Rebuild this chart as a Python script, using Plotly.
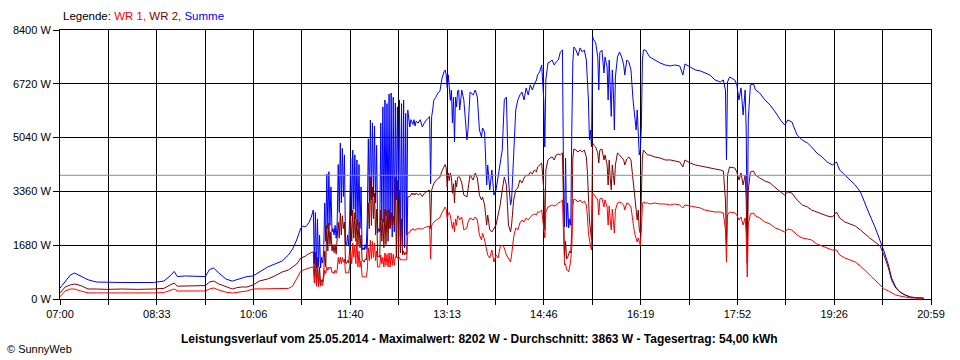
import plotly.graph_objects as go

# ---------------- data (minutes after 07:00, watts) ----------------
T = [0, 5, 10, 14, 20, 27, 35, 45, 60, 75, 90, 100, 106, 110, 113, 120, 130, 140, 144, 148, 153, 160, 166, 170, 175, 180, 186, 192, 200, 207, 214, 220, 224, 228,
     232, 234, 236, 238, 240, 242, 244, 245, 246, 247, 248, 249, 250, 251, 252, 253, 254, 255, 256, 257, 258, 259, 260, 261, 262, 263, 264, 265, 266, 267, 268, 269,
     270, 271, 272, 273, 274, 275, 276, 277, 278, 279, 280, 281, 282, 283, 284, 285, 286, 287, 288, 289, 290, 291, 292, 293, 294, 295, 296, 297, 298, 299, 300, 301,
     302, 303, 304, 305, 306, 307, 308, 309, 310, 311, 312, 313, 314, 315, 316, 317, 318, 319, 320, 321, 322, 323, 324, 325, 326, 327, 328, 329, 330, 331, 332, 333,
     334, 335, 336, 337, 338, 339, 340, 341, 342, 343, 345, 347, 349, 351, 353, 355, 356, 357, 358, 359, 360, 362, 364, 366, 368, 370, 371, 372, 373, 374, 375, 376,
     377, 378, 379, 380, 381, 382, 383, 384,
     385, 387, 389, 392, 393, 395, 398, 400, 402, 404, 406, 407, 409, 411, 412, 414, 416, 418, 420, 422, 424, 426, 428, 430, 432, 434, 435, 437, 439, 441, 443, 445,
     447, 449, 451, 453, 455, 457, 459, 460, 462, 464, 466, 467, 468, 470, 472, 474, 476, 478, 480,
     482, 484, 485, 486, 487, 488, 489, 490, 491, 492, 493, 494, 495, 497, 499, 501, 503, 505, 507, 508, 509, 510, 511, 512, 513, 514, 516, 518, 519, 520, 522, 524,
     525, 527, 528, 529, 530, 531, 532, 533, 534, 535, 537, 539, 541, 543, 544, 546, 548, 550, 552, 553, 554, 555, 556, 557, 558, 559, 560, 561, 562, 564, 566, 568,
     573, 578, 583, 588, 592, 597, 600, 602, 607, 612, 617, 621, 626, 631, 636, 639, 641, 642, 643, 645, 650, 652, 654, 656, 658, 660, 661, 662, 663, 665, 668, 670,
     674, 679, 684, 689, 694, 698, 701, 705, 710, 715, 720, 724, 729, 734, 739, 744, 748, 751, 756, 761, 766, 771, 775, 780, 785, 790, 794, 798, 801, 805, 809, 814,
     819, 824, 828, 832]

SUMME = [340, 560, 750, 812, 720, 600, 530, 515, 515, 515, 515, 560, 720, 860, 700, 720, 700, 700, 920, 968, 812, 620, 560, 600, 650, 700, 720, 843, 1000, 1093, 1187, 1374, 1560, 1843,
         2217, 2280, 2250, 2300, 2400, 2550, 2780, 1100, 2700, 968, 2500, 1000, 2000, 968, 1300, 1124, 1500, 3000, 1800, 3900, 2200, 3976, 2300, 3500, 2100, 2200, 2000, 2300, 1900, 2400, 4200, 2700,
         4872, 3000, 4700, 3200, 4500, 1700, 1655, 2000, 1650, 2500, 4400, 2600, 4650, 2800, 4500, 2500, 4341, 2300, 4200, 2200, 3500, 1530, 1600, 1530, 1700, 1560, 2500, 5000, 3000, 5590, 3100, 5500,
         3200, 5400, 3000, 4800, 2061, 2200, 2100, 5496, 2467, 6000, 2400, 6215, 2600, 6100, 2300, 6400, 2200, 6433, 1936, 6300, 2100, 6121, 3092, 6000, 3200, 6215, 1530, 6100, 1700, 6215, 1600, 5800,
         2000, 5902, 5500, 5372, 5600, 5496, 5450, 5600, 5400, 5550, 5496, 5600, 5372, 5500, 5600, 5650, 5700, 3600, 5700, 5900, 6200, 6300, 6433, 6500, 6900, 7100, 7152, 7000, 6600, 7000, 6527, 6200,
         6527, 5500, 6300, 4900, 6300, 6000, 6500, 6527,
         5902, 6527, 6215, 4966, 5278, 6465, 6371, 6527, 6308, 5278, 5059, 5340, 5215, 3560, 4185, 3404, 4029, 3248, 3404, 3872, 4185, 4653, 6215, 6308, 3716, 2936, 3092, 4341, 5902, 6215, 6371, 6465,
         6215, 6590, 6371, 6683, 6527, 6715, 6839, 6996, 7089, 7308, 6215, 4747, 6839, 7370, 7401, 7464, 7308, 7401, 7464,
         7714, 7776, 3716, 2249, 4400, 2249, 3000, 2217, 2500, 2300, 5300, 7400, 7870, 7776, 7600, 7840, 7714, 7776, 7464, 6839, 6215, 4966, 5278, 4747, 8202, 8100, 8000, 7558, 6527, 7700, 7776, 7058,
         7558, 7245, 6215, 7464, 6746, 5700, 7152, 6527, 5278, 6933, 7558, 7714, 7558, 7308, 6996, 7464, 7401, 7152, 6215, 5902, 5590, 5278, 5902, 4966, 4497, 4653, 5372, 7464, 7776, 7776, 7683, 7558,
         7464, 7370, 7308, 7277, 7308, 7277, 6996, 7339, 7245, 7152, 7120, 7058, 6996, 6839, 6777, 6839, 6527, 4341, 6777, 6933, 6839, 6683, 6215, 6590, 5746, 6527, 5278, 1843, 5590, 6683, 6715, 6527,
         6433, 6215, 6059, 5840, 5590, 5434, 5590, 5528, 5122, 4966, 4872, 4747, 4560, 4435, 4278, 4185, 4278, 4029, 3872, 3716, 3560, 3342, 2998, 2623, 2249, 1843, 1468, 1062, 656, 375, 219, 125,
         62, 47, 31, 31]

WR2 = [190, 375, 440, 468, 420, 312, 312, 300, 312, 300, 312, 330, 437, 500, 400, 406, 406, 420, 530, 562, 470, 375, 312, 350, 375, 375, 437, 562, 625, 720, 843, 906, 1000, 1093,
       1280, 1300, 1330, 1380, 1420, 1450, 1470, 700, 1468, 500, 1300, 400, 1000, 450, 600, 520, 800, 1500, 1000, 2300, 1500, 2373, 1700, 2100, 1500, 1700, 1450, 1700, 1400, 1800, 2400, 1900,
       2686, 2000, 2600, 2200, 2400, 1124, 1100, 1200, 1124, 1500, 2600, 1800, 2779, 1900, 2700, 1800, 2500, 1700, 2400, 1600, 2000, 1218, 1200, 1150, 1250, 1218, 1600, 3000, 2200, 3810, 2300, 3500,
       2500, 3300, 2000, 2800, 1312, 1350, 1300, 2779, 1800, 2500, 1600, 2800, 1700, 2779, 1800, 2800, 2200, 2700, 2300, 2600, 2300, 3810, 1300, 3700, 1218, 3400, 1437, 2500, 1374, 1500, 1374, 1450,
       1400, 3185, 3185, 3200, 3250, 3310, 3250, 3300, 3250, 3310, 3250, 3300, 3200, 3300, 3350, 3400, 3400, 2200, 3400, 3500, 3600, 3700, 3750, 3810, 4000, 4150, 4200, 4100, 3500, 3935, 3700, 3935,
       3800, 3300, 3600, 3000, 3700, 3500, 3800, 3810,
       3810, 3623, 3248, 3185, 3404, 3872, 3716, 3935, 3779, 3248, 3092, 3185, 2936, 2311, 2623, 2155, 2092, 2217, 2311, 2623, 2936, 3404, 3810, 3560, 2311, 2092, 2311, 3092, 3404, 3467, 3716, 3623,
       3779, 3872, 3841, 3966, 3904, 4029, 3966, 4122, 4185, 4247, 3404, 2155, 4029, 4341, 4403, 4435, 4341, 4497, 4528,
       4497, 4560, 2155, 1312, 1800, 1250, 1300, 1374, 1500, 1437, 2155, 4400, 4684, 4653, 4590, 4653, 4590, 4653, 4435, 3966, 2936, 2467, 2155, 1843, 4872, 4810, 4747, 4560, 4247, 4653, 4684, 4341,
       4497, 4185, 3560, 4341, 3779, 3404, 4185, 3716, 3560, 4185, 4560, 4497, 4435, 4341, 4185, 4372, 4435, 4341, 3716, 3404, 3092, 2779, 2467, 2779, 2155, 2061, 3310, 4435, 4653, 4560, 4497, 4497,
       4435, 4403, 4341, 4341, 4310, 4278, 4122, 4341, 4247, 4185, 4154, 4122, 4091, 4060, 4029, 3997, 3092, 1700, 3872, 4122, 4091, 3966, 3716, 3935, 3560, 3872, 3092, 1124, 3404, 3966, 3997, 3872,
       3779, 3685, 3623, 3467, 3342, 3248, 3342, 3310, 3092, 2936, 2873, 2779, 2717, 2655, 2592, 2561, 2717, 2530, 2405, 2342, 2280, 2155, 2030, 1905, 1780, 1655, 1343, 968, 593, 344, 219, 125,
       62, 31, 31, 16]

WR1 = [70, 250, 312, 312, 250, 190, 190, 190, 190, 175, 190, 200, 280, 312, 250, 250, 250, 250, 312, 344, 280, 210, 187, 200, 220, 250, 312, 312, 312, 312, 312, 330, 400, 620,
       870, 900, 930, 950, 968, 990, 1000, 500, 1000, 400, 900, 380, 700, 400, 500, 420, 600, 900, 800, 1000, 900, 1000, 950, 1000, 820, 850, 800, 900, 820, 900, 1300, 1100,
       1312, 1100, 1300, 1150, 1250, 812, 800, 850, 812, 1000, 1500, 1100, 1749, 1300, 1650, 1100, 1900, 1000, 1500, 1000, 1200, 700, 690, 687, 700, 690, 900, 1600, 1200, 1843, 1250, 1800,
       1300, 1750, 1200, 1500, 999, 1000, 1000, 1374, 1100, 1300, 1000, 1437, 1050, 1400, 1000, 1437, 1000, 1437, 1050, 1400, 1050, 1312, 1300, 1312, 1250, 1300, 1218, 1250, 1218, 1218, 1220, 1218,
       1230, 2061, 2061, 2100, 2155, 2155, 2200, 2150, 2150, 2180, 2200, 2200, 2180, 2230, 2250, 2280, 2280, 1250, 2300, 2350, 2400, 2450, 2500, 2550, 2700, 2800, 2870, 2800, 2500, 2650, 2700, 2600,
       2400, 2200, 2400, 2100, 2500, 2300, 2600, 2560,
       2467, 2561, 2155, 2217, 2405, 2530, 2467, 2561, 2467, 1999, 1843, 2061, 1843, 1530, 1374, 1280, 1530, 1156, 1374, 1280, 1624, 1686, 1593, 1374, 1280, 1156, 1374, 1936, 2217, 2155, 2373, 2467,
       2405, 2530, 2467, 2561, 2623, 2655, 2623, 2717, 2717, 2779, 2311, 1905, 2717, 2873, 2904, 2936, 2904, 2936, 2998,
       3029, 3092, 1843, 1062, 1100, 906, 906, 843, 1000, 1218, 1624, 2900, 3123, 3092, 3029, 3092, 2998, 3060, 2936, 2623, 2061, 1749, 1655, 1530, 3310, 3280, 3185, 3092, 2623, 3123, 3154, 2873,
       3092, 2873, 2311, 2904, 2467, 2155, 2811, 2467, 2061, 2779, 2998, 3029, 2998, 2936, 2779, 2998, 2967, 2873, 2311, 2155, 1999, 1905, 1780, 1905, 1749, 1686, 2155, 2967, 3029, 2998, 2998, 2967,
       2998, 2967, 2967, 2936, 2967, 2936, 2842, 2936, 2904, 2873, 2842, 2779, 2748, 2717, 2717, 2686, 2155, 1150, 2623, 2717, 2686, 2623, 2467, 2561, 2311, 2530, 1999, 687, 2311, 2655, 2686, 2592,
       2530, 2405, 2342, 2217, 2155, 2092, 2186, 2155, 1999, 1905, 1874, 1843, 1718, 1655, 1593, 1530, 1530, 1374, 1280, 1218, 1156, 1031, 906, 750, 593, 437, 312, 250, 187, 125, 94, 62,
       31, 31, 16, 16]

X_TICK_LABELS = ["07:00", "", "08:33", "", "10:06", "", "11:40", "", "13:13", "", "14:46", "",
                 "16:19", "", "17:52", "", "19:26", "", "20:59"]
Y_TICKS = [0, 1680, 3360, 5040, 6720, 8400]
AVERAGE = 3863
TITLE = "Leistungsverlauf vom 25.05.2014 - Maximalwert: 8202 W - Durchschnitt: 3863 W - Tagesertrag: 54,00 kWh"

assert len(T) == len(SUMME) == len(WR2) == len(WR1), (len(T), len(SUMME), len(WR2), len(WR1))

X_MAX = 839
FONT = "Liberation Sans, Arial, sans-serif"

fig = go.Figure()
fig.add_trace(go.Scatter(x=T, y=SUMME, mode="lines", name="Summe",
                         line=dict(color="#0000FF", width=1)))
fig.add_trace(go.Scatter(x=T, y=WR2, mode="lines", name="WR 2",
                         line=dict(color="#800000", width=1)))
fig.add_trace(go.Scatter(x=T, y=WR1, mode="lines", name="WR 1",
                         line=dict(color="#FF0000", width=1)))

fig.add_shape(type="line", xref="paper", x0=0, x1=1, yref="y", y0=AVERAGE, y1=AVERAGE,
              line=dict(color="#8C8C8C", width=1), layer="above")

tickvals = [i * X_MAX / 18 for i in range(19)]

fig.update_layout(
    width=960, height=360, autosize=False,
    margin=dict(l=60, r=29, t=30, b=61, pad=0),
    paper_bgcolor="white", plot_bgcolor="white",
    showlegend=False, hovermode=False,
    font=dict(family=FONT, size=11, color="black"),
    xaxis=dict(range=[0, X_MAX], tickmode="array", tickvals=tickvals, ticktext=X_TICK_LABELS,
               showgrid=True, gridcolor="black", gridwidth=1, zeroline=False,
               showline=True, linecolor="black", linewidth=1, mirror=True,
               ticks="outside", ticklen=5, tickcolor="black", tickfont=dict(size=11)),
    yaxis=dict(range=[0, 8400], tickmode="array", tickvals=Y_TICKS,
               ticktext=[f"{v} W" for v in Y_TICKS],
               showgrid=True, gridcolor="black", gridwidth=1, zeroline=False,
               showline=True, linecolor="black", linewidth=1, mirror=True,
               ticks="outside", ticklen=6, tickcolor="black", tickfont=dict(size=11)),
    annotations=[
        dict(text='Legende: <span style="color:#FF0000">WR 1, </span><span style="color:#800000">WR 2, </span><span style="color:#0000FF">Summe</span>',
             xref="paper", yref="paper", x=0.001, y=1.052, xanchor="left", yanchor="middle",
             showarrow=False, font=dict(size=11.5, color="black")),
        dict(text="<b>" + TITLE + "</b>", xref="paper", yref="paper", x=0.482, y=-0.149,
             xanchor="center", yanchor="middle", showarrow=False, font=dict(size=12, color="black")),
        dict(text="© SunnyWeb", xref="paper", yref="paper", x=-0.063, y=-0.186,
             xanchor="left", yanchor="middle", showarrow=False, font=dict(size=11, color="black")),
    ],
)

fig.write_html("out.html", config={"displayModeBar": False},
               post_script="document.body.style.margin='0';document.body.style.overflow='hidden';")
